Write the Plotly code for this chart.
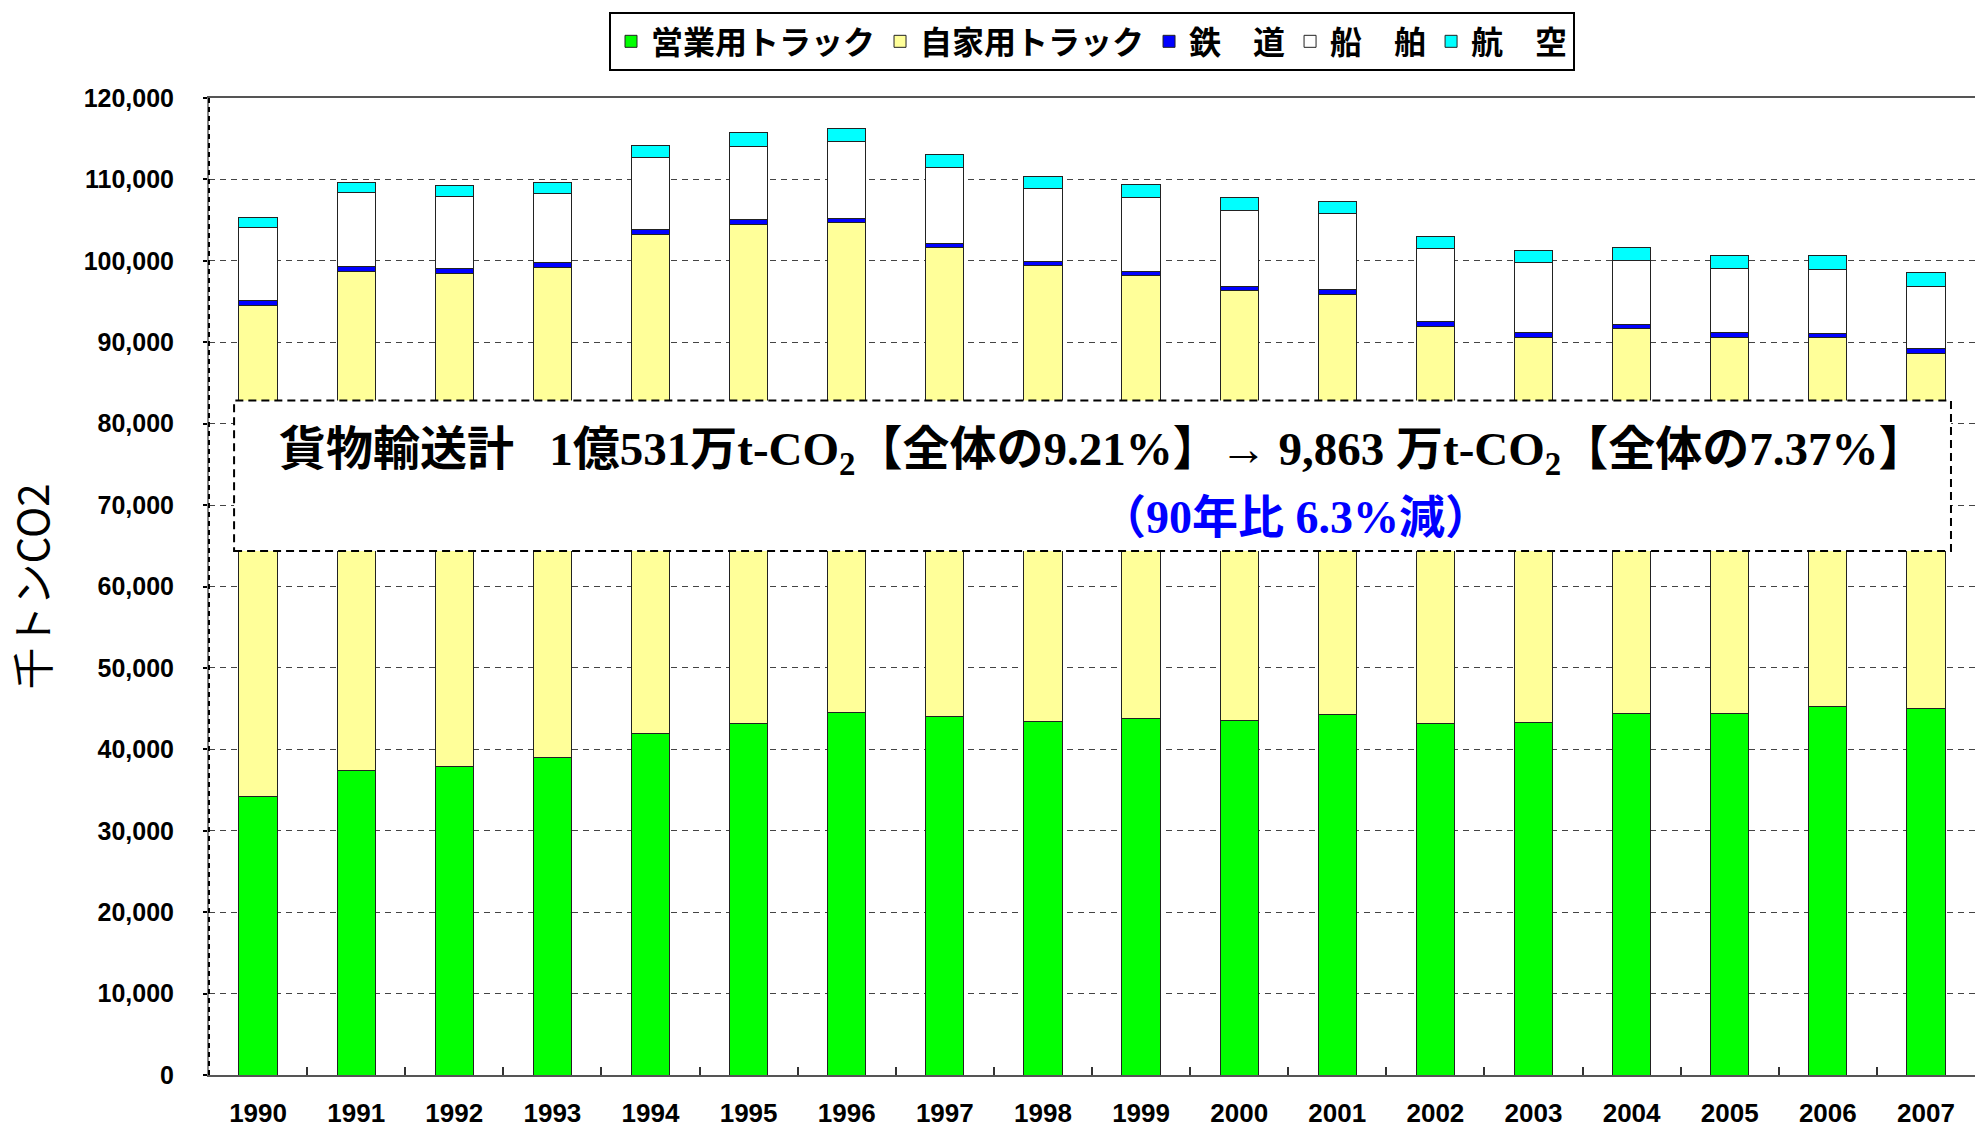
import plotly.graph_objects as go

years = ["1990", "1991", "1992", "1993", "1994", "1995", "1996", "1997", "1998",
         "1999", "2000", "2001", "2002", "2003", "2004", "2005", "2006", "2007"]

# 千トンCO2
commercial_truck = [34210, 37390, 37880, 38940, 42000, 43180, 44490, 44040, 43390,
                    43840, 43590, 44240, 43140, 43260, 44370, 44370, 45300, 44980]
private_truck = [60290, 61310, 60580, 60210, 61270, 61310, 60170, 57600, 56000,
                 54330, 52780, 51640, 48780, 47360, 47270, 46250, 45240, 43640]
rail = [650, 650, 650, 610, 610, 570, 530, 530, 530,
        530, 530, 570, 570, 530, 530, 530, 530, 570]
shipping = [8940, 9020, 8850, 8450, 8850, 9020, 9420, 9260, 8940,
            9060, 9260, 9380, 8980, 8610, 7920, 7920, 7920, 7710]
aviation = [1220, 1270, 1350, 1430, 1470, 1670, 1590, 1670, 1550,
            1590, 1670, 1470, 1550, 1550, 1550, 1590, 1670, 1670]

series_names = ["営業用トラック", "自家用トラック", "鉄\u3000道", "船\u3000舶", "航\u3000空"]
series_values = [commercial_truck, private_truck, rail, shipping, aviation]
series_colors = ["#00FF00", "#FFFF99", "#0000FF", "#FFFFFF", "#00FFFF"]

y_ticks = [0, 10000, 20000, 30000, 40000, 50000, 60000, 70000, 80000, 90000, 100000, 110000, 120000]
y_tick_labels = ["0", "10,000", "20,000", "30,000", "40,000", "50,000", "60,000", "70,000",
                 "80,000", "90,000", "100,000", "110,000", "120,000"]

line1 = ("貨物輸送計\u00a0\u00a0\u00a01億531万t-CO<sub>2</sub>【全体の9.21%】→ 9,863 万t-CO<sub>2</sub>"
         "【全体の7.37%】")
line2 = "（90年比 6.3%減）"

fig = go.Figure()
for name, vals, col in zip(series_names, series_values, series_colors):
    fig.add_trace(go.Bar(
        x=years, y=vals, name=name,
        marker=dict(color=col, line=dict(color="#222222", width=1)),
    ))

fig.update_layout(
    width=1975, height=1128,
    barmode="stack", bargap=0.61,
    plot_bgcolor="white", paper_bgcolor="white",
    margin=dict(l=209, r=0, t=98, b=50),
    font=dict(family="Liberation Sans, Arial, sans-serif", color="black"),
    legend=dict(
        orientation="h", x=0.5, xanchor="center", y=1.088, yanchor="top",
        font=dict(family="Noto Sans CJK JP", size=32, color="black", weight="bold"),
        bgcolor="white", bordercolor="black", borderwidth=2,
        traceorder="normal",
    ),
    showlegend=True,
)

fig.update_xaxes(
    type="category", range=[-0.5, 17.5],
    showline=True, linecolor="#555555", linewidth=2, mirror=True,
    ticks="inside", tickson="boundaries", ticklen=8, tickcolor="#333333", tickwidth=1.5,
    tickfont=dict(family="Liberation Sans, Arial, sans-serif", size=26, color="black", weight="bold"),
    ticklabelstandoff=14,
    showgrid=False,
)

fig.update_yaxes(
    range=[0, 120000], tickvals=y_ticks, ticktext=y_tick_labels,
    showline=True, linecolor="#888888", linewidth=2,
    ticks="outside", ticklen=4, tickcolor="black", tickwidth=2,
    tickfont=dict(family="Liberation Sans, Arial, sans-serif", size=25, color="black", weight="bold"),
    ticklabelstandoff=24,
    showgrid=True, gridcolor="#444444", gridwidth=1.3, griddash="6px,5px",
    zeroline=False,
    title=dict(text="千トンCO2", font=dict(family="Noto Sans CJK JP", size=42, color="black"),
               standoff=26),
)

# dashed left axis overlay
fig.add_shape(type="line", xref="paper", yref="paper", x0=0, x1=0, y0=0, y1=1,
              line=dict(color="black", width=2, dash="5px,4px"), layer="above")

# summary box
fig.add_shape(type="rect", xref="paper", yref="paper",
              x0=0.0142, x1=0.9864, y0=0.5363, y1=0.6903,
              fillcolor="white", line=dict(color="black", width=2, dash="8px,5px"),
              layer="above")

fig.add_annotation(xref="paper", yref="paper", x=0.5058, y=0.637,
                   text=line1, showarrow=False, xanchor="center", yanchor="middle",
                   font=dict(family="Liberation Serif, Times New Roman, Noto Sans CJK JP",
                             size=47, color="black", weight="bold"))
fig.add_annotation(xref="paper", yref="paper", x=0.615, y=0.571,
                   text=line2, showarrow=False, xanchor="center", yanchor="middle",
                   font=dict(family="Liberation Serif, Times New Roman, Noto Sans CJK JP",
                             size=46, color="#0000FF", weight="bold"))

fig.write_html("out.html", config={"displayModeBar": False},
               post_script="document.body.style.margin='0';document.body.style.overflow='hidden';")
